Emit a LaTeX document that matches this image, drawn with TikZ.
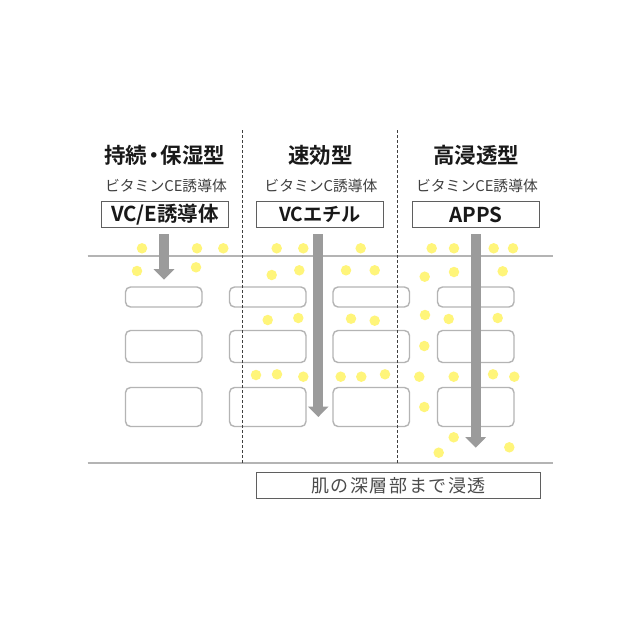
\documentclass[tikz,border=0pt]{standalone}
\usepackage{fontspec}
\usetikzlibrary{arrows.meta}
\setmainfont{Noto Sans CJK JP}[BoldFont={* Bold}]
\definecolor{dotc}{HTML}{FFF57A}
\definecolor{arrc}{HTML}{9B9B9B}
\definecolor{linec}{HTML}{B4B4B4}
\definecolor{framec}{HTML}{5F5F5F}
\tikzset{
  x=1pt,y=-1pt,
  cell/.style={draw=linec,line width=1.4pt,rounded corners=5pt,fill=white},
  labelbox/.style={draw=framec,line width=1pt,fill=white,inner sep=0pt},
  rule/.style={draw=linec,line width=1.4pt},
  divider/.style={draw=black!75,line width=.7pt,dash pattern=on 3pt off 2pt},
  flow/.style={draw=arrc,line width=9.8pt,-{Triangle[length=10.5pt,width=20pt]}},
  pt/.style={circle,fill=dotc,inner sep=0pt,minimum size=10.5pt},
  ttl/.style={font=\bfseries\fontsize{21.5}{24}\selectfont,text=black!90,inner sep=0pt},
  sub/.style={font=\fontsize{14.8}{16}\selectfont,text=black!75,inner sep=0pt},
  boxt/.style={font=\bfseries\fontsize{20.5}{22}\selectfont,text=black!90,inner sep=0pt},
  boxs/.style={font=\bfseries\fontsize{19.2}{22}\selectfont,text=black!90,inner sep=0pt},
  bott/.style={font=\fontsize{18}{22}\selectfont,text=black!70,inner sep=0pt}
}
\begin{document}
\begin{tikzpicture}
\useasboundingbox (0,0) rectangle (640,640);
\fill[white] (0,0) rectangle (640,640);
% horizontal rules
\coordinate (r1a) at (87.5,256); \coordinate (r1b) at (553,256);
\coordinate (r2a) at (87.5,463); \coordinate (r2b) at (553,463);
\draw[rule] (r1a) -- (r1b);
\draw[rule] (r2a) -- (r2b);
% cells
\foreach \n/\xa/\xb in {a/125.5/202,b/229.5/306,c/333/409.5,d/437.5/514}{
  \draw[cell] (\xa,287) rectangle (\xb,307);
  \draw[cell] (\xa,330.5) rectangle (\xb,362.5);
  \draw[cell] (\xa,387.5) rectangle (\xb,426.5);
}
% dashed dividers
\coordinate (d1a) at (242.5,130); \coordinate (d1b) at (242.5,463);
\coordinate (d2a) at (397.5,130); \coordinate (d2b) at (397.5,463);
\draw[divider] (d1a) -- (d1b);
\draw[divider] (d2a) -- (d2b);
% dots
\foreach \x/\y in {142/248.3,197/248.3,223.3/248.3,276.7/248.3,303.3/248.3,137/271,196/267.3,271.7/275,299.3/270.3,
360.7/248.3,346/270.3,374.7/270.3,431.7/248.3,454/248.3,493.7/248.3,513/248.3,424.7/276.7,454/272,502.7/271.3,
267.7/320,298.3/318,256/375,277/374.3,303.3/376.7,
351/318.7,374.7/320.7,425/315,448.7/319,497.7/318,424.3/346,340.7/376.7,361.3/376.7,385/374.3,419.3/376.7,453.7/376.7,493/374.3,514.3/376.7,424.3/407,453.7/437.3,438.7/452.7,509.3/447.3}
  \node[pt] at (\x,\y) {};
% labels
\node[ttl] (t1) at (164.5,155) {持続\hspace{-4pt}・\hspace{-4pt}保湿型};
\node[ttl] (t2) at (320.5,155) {速効型};
\node[ttl] (t3) at (476,155) {高浸透型};
\node[sub] (s1) at (166,186) {ビタミンCE誘導体};
\node[sub] (s2) at (321,186) {ビタミンC誘導体};
\node[sub] (s3) at (477,186) {ビタミンCE誘導体};
\node[labelbox,minimum width=127pt,minimum height=26pt] (b1) at (164.5,214.5) {};
\node[labelbox,minimum width=127pt,minimum height=26pt] (b2) at (320,214.5) {};
\node[labelbox,minimum width=127pt,minimum height=26pt] (b3) at (476,214.5) {};
\node[boxt,xshift=.5pt] at (b1) {VC/E誘導体};
\node[boxs] at (b2) {VCエチル};
\node[boxt] at (b3) {APPS};
\node[labelbox,minimum width=283.5pt,minimum height=26pt] (b4) at (398.5,485.7) {};
\node[bott] at (b4) {\addfontfeatures{LetterSpace=9}肌の深層部まで浸透};
% arrows
\coordinate (a1) at (164,279.7);
\coordinate (a2) at (318.3,417);
\coordinate (a3) at (475.7,447.7);
\draw[flow] (a1 |- b1.south) ++(0,6) -- (a1);
\draw[flow] (a2 |- b2.south) ++(0,6) -- (a2);
\draw[flow] (a3 |- b3.south) ++(0,6) -- (a3);
\end{tikzpicture}
\end{document}
